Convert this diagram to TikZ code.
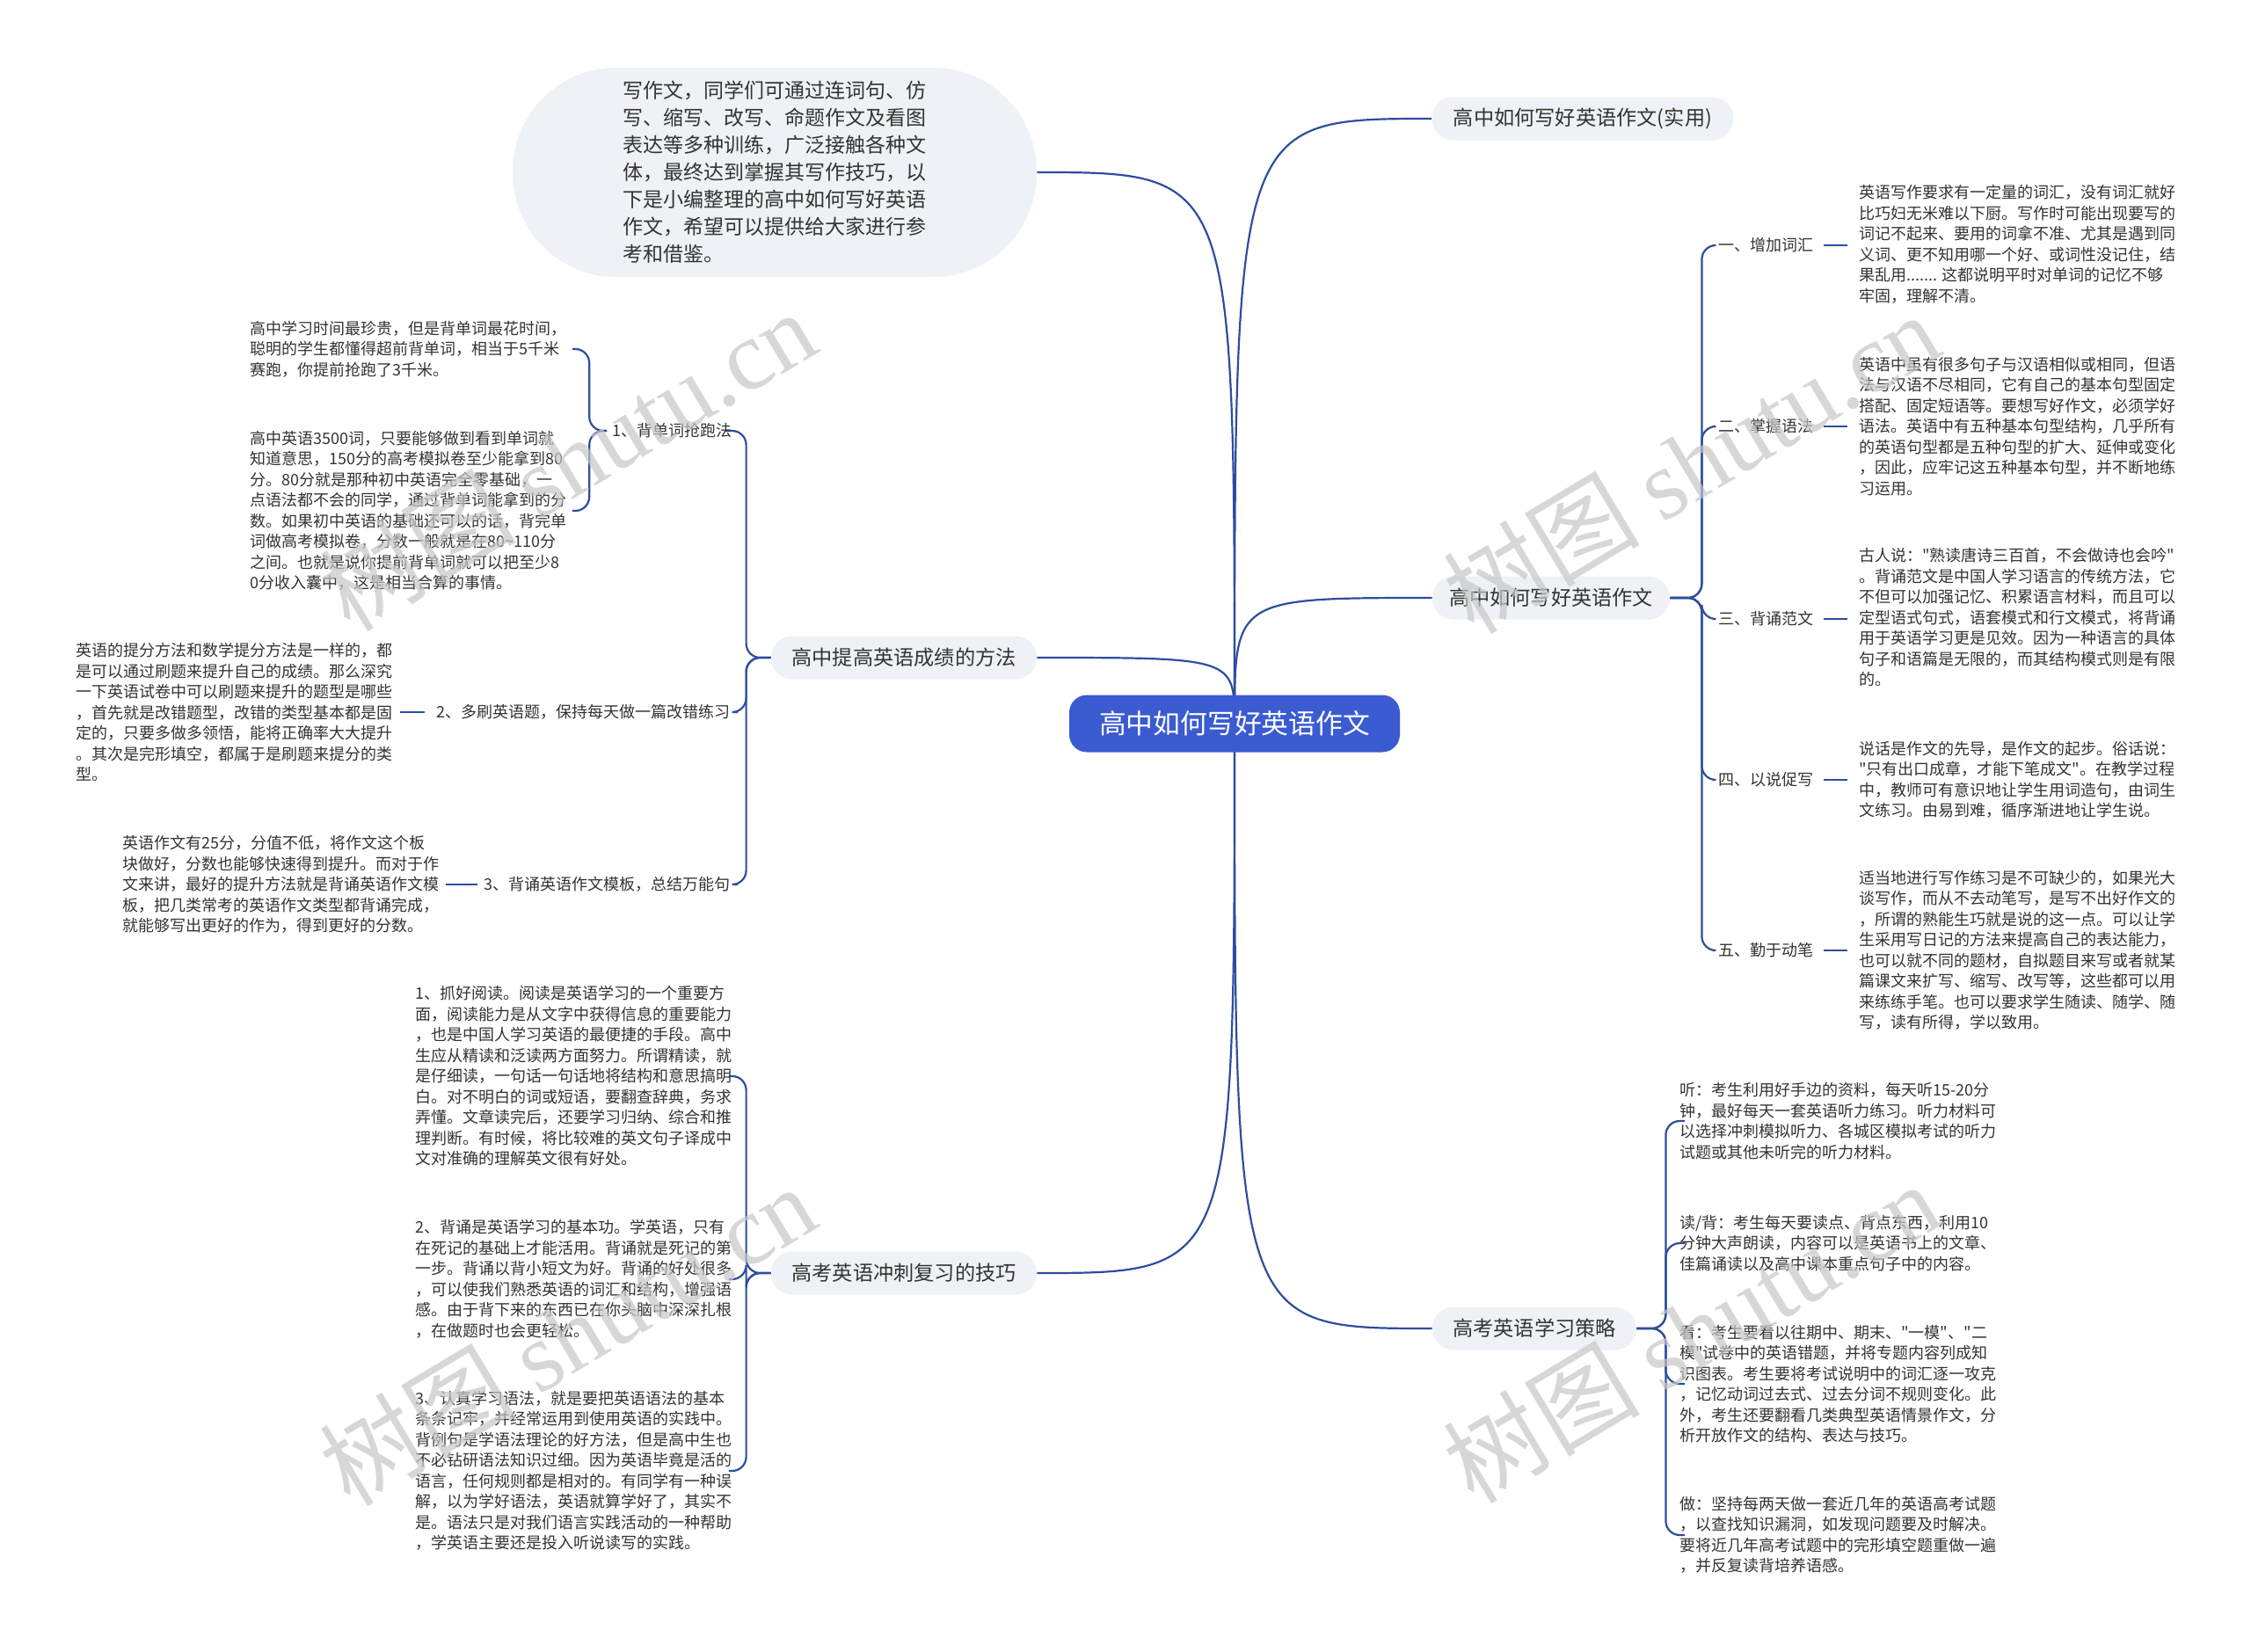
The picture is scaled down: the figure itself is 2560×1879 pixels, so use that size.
\documentclass[tikz,border=0pt]{standalone}
\usepackage{fontspec}
\setmainfont{Noto Sans CJK SC}
\newfontfamily\cjk{Noto Sans CJK SC}
\newfontfamily\wmlatin{Liberation Serif}
\usetikzlibrary{backgrounds}
\definecolor{linec}{HTML}{2D4D9E}
\definecolor{hubc}{HTML}{3B5BD1}
\definecolor{pillc}{HTML}{EEF1F5}
\definecolor{ink}{HTML}{333333}
\tikzset{
 conn/.style={draw=linec, line width=1.1pt},
 bracketc/.style={conn, rounded corners=8pt},
 hubnode/.style={fill=hubc, text=white, rounded corners=10pt, minimum width=188pt, minimum height=32.5pt, inner sep=0pt, font=\cjk\fontsize{15.4}{18}\selectfont},
 topic/.style={fill=pillc, text=ink, rounded corners=12pt, minimum height=24.5pt, inner sep=0pt, font=\cjk\fontsize{11.6}{14}\selectfont},
 lbl/.style={text=ink, inner sep=0pt, font=\cjk\fontsize{9}{11.75}\selectfont},
 blk/.style={text=ink, inner sep=0pt, align=left, font=\cjk\fontsize{9}{11.75}\selectfont},
 wm/.style={text=black!22, text opacity=0.7, rotate=31, inner sep=0pt, font=\cjk\fontsize{56}{60}\selectfont}
}
\begin{document}
\begin{tikzpicture}[x=0.5pt,y=-0.5pt]
\useasboundingbox (0,0) rectangle (2560,1879);

% hub
\node[hubnode] (hub) at (1404,823) {高中如何写好英语作文};

% level-1 topics
\node[topic, minimum width=171.5pt] (R1) at (1800,135) {高中如何写好英语作文(实用)};
\node[topic, minimum width=135pt] (R2) at (1764,680) {高中如何写好英语作文};
\node[topic, minimum width=116pt] (R3) at (1745,1511) {高考英语学习策略};
\node[topic, minimum width=151pt] (L1) at (1028,748) {高中提高英语成绩的方法};
\node[topic, minimum width=151pt] (L2) at (1028,1448) {高考英语冲刺复习的技巧};
\node[fill=pillc, text=ink, rounded corners=59pt, minimum width=298pt, minimum height=119pt, inner sep=0pt, align=left, font=\cjk\fontsize{11.5}{15.5}\selectfont] (bubble) at (881,196) {写作文，同学们可通过连词句、仿\\
写、缩写、改写、命题作文及看图\\
表达等多种训练，广泛接触各种文\\
体，最终达到掌握其写作技巧，以\\
下是小编整理的高中如何写好英语\\
作文，希望可以提供给大家进行参\\
考和借鉴。};

% right branch R2 labels and blocks
\node[lbl, anchor=west] (a1) at (1954,279) {一、增加词汇};
\node[lbl, anchor=west] (a2) at (1954,485) {二、掌握语法};
\node[lbl, anchor=west] (a3) at (1954,704) {三、背诵范文};
\node[lbl, anchor=west] (a4) at (1954,887) {四、以说促写};
\node[lbl, anchor=west] (a5) at (1954,1081) {五、勤于动笔};

\node[blk, anchor=west] (t1) at (2114,278) {英语写作要求有一定量的词汇，没有词汇就好\\
比巧妇无米难以下厨。写作时可能出现要写的\\
词记不起来、要用的词拿不准、尤其是遇到同\\
义词、更不知用哪一个好、或词性没记住，结\\
果乱用....... 这都说明平时对单词的记忆不够\\
牢固，理解不清。};
\node[blk, anchor=west] (t2) at (2114,485) {英语中虽有很多句子与汉语相似或相同，但语\\
法与汉语不尽相同，它有自己的基本句型固定\\
搭配、固定短语等。要想写好作文，必须学好\\
语法。英语中有五种基本句型结构，几乎所有\\
的英语句型都是五种句型的扩大、延伸或变化\\
，因此，应牢记这五种基本句型，并不断地练\\
习运用。};
\node[blk, anchor=west] (t3) at (2114,702) {古人说："熟读唐诗三百首，不会做诗也会吟"\\
。背诵范文是中国人学习语言的传统方法，它\\
不但可以加强记忆、积累语言材料，而且可以\\
定型语式句式，语套模式和行文模式，将背诵\\
用于英语学习更是见效。因为一种语言的具体\\
句子和语篇是无限的，而其结构模式则是有限\\
的。};
\node[blk, anchor=west] (t4) at (2114,887) {说话是作文的先导，是作文的起步。俗话说：\\
"只有出口成章，才能下笔成文"。在教学过程\\
中，教师可有意识地让学生用词造句，由词生\\
文练习。由易到难，循序渐进地让学生说。};
\node[blk, anchor=west] (t5) at (2114,1081) {适当地进行写作练习是不可缺少的，如果光大\\
谈写作，而从不去动笔写，是写不出好作文的\\
，所谓的熟能生巧就是说的这一点。可以让学\\
生采用写日记的方法来提高自己的表达能力，\\
也可以就不同的题材，自拟题目来写或者就某\\
篇课文来扩写、缩写、改写等，这些都可以用\\
来练练手笔。也可以要求学生随读、随学、随\\
写，读有所得，学以致用。};

% right branch R3 blocks
\node[blk, anchor=west] (e1) at (1910,1275) {听：考生利用好手边的资料，每天听15-20分\\
钟，最好每天一套英语听力练习。听力材料可\\
以选择冲刺模拟听力、各城区模拟考试的听力\\
试题或其他未听完的听力材料。};
\node[blk, anchor=west] (e2) at (1910,1414) {读/背：考生每天要读点、背点东西，利用10\\
分钟大声朗读，内容可以是英语书上的文章、\\
佳篇诵读以及高中课本重点句子中的内容。};
\node[blk, anchor=west] (e3) at (1910,1574) {看：考生要看以往期中、期末、"一模"、"二\\
模"试卷中的英语错题，并将专题内容列成知\\
识图表。考生要将考试说明中的词汇逐一攻克\\
，记忆动词过去式、过去分词不规则变化。此\\
外，考生还要翻看几类典型英语情景作文，分\\
析开放作文的结构、表达与技巧。};
\node[blk, anchor=west] (e4) at (1910,1746) {做：坚持每两天做一套近几年的英语高考试题\\
，以查找知识漏洞，如发现问题要及时解决。\\
要将近几年高考试题中的完形填空题重做一遍\\
，并反复读背培养语感。};

% left branch L1
\node[lbl, anchor=east] (b1) at (833,490) {1、背单词抢跑法};
\node[lbl, anchor=east] (b2) at (831,810) {2、多刷英语题，保持每天做一篇改错练习};
\node[lbl, anchor=east] (b3) at (831,1006) {3、背诵英语作文模板，总结万能句};

\node[blk, anchor=west] (c1) at (284,397) {高中学习时间最珍贵，但是背单词最花时间，\\
聪明的学生都懂得超前背单词，相当于5千米\\
赛跑，你提前抢跑了3千米。};
\node[blk, anchor=west] (c2) at (284,581) {高中英语3500词，只要能够做到看到单词就\\
知道意思，150分的高考模拟卷至少能拿到80\\
分。80分就是那种初中英语完全零基础，一\\
点语法都不会的同学，通过背单词能拿到的分\\
数。如果初中英语的基础还可以的话，背完单\\
词做高考模拟卷，分数一般就是在80\textasciitilde 110分\\
之间。也就是说你提前背单词就可以把至少8\\
0分收入囊中，这是相当合算的事情。};
\node[blk, anchor=west] (c3) at (86,810) {英语的提分方法和数学提分方法是一样的，都\\
是可以通过刷题来提升自己的成绩。那么深究\\
一下英语试卷中可以刷题来提升的题型是哪些\\
，首先就是改错题型，改错的类型基本都是固\\
定的，只要多做多领悟，能将正确率大大提升\\
。其次是完形填空，都属于是刷题来提分的类\\
型。};
\node[blk, anchor=west] (c4) at (139,1006) {英语作文有25分，分值不低，将作文这个板\\
块做好，分数也能够快速得到提升。而对于作\\
文来讲，最好的提升方法就是背诵英语作文模\\
板，把几类常考的英语作文类型都背诵完成，\\
就能够写出更好的作为，得到更好的分数。};

% left branch L2
\node[blk, anchor=west] (d1) at (472,1224) {1、抓好阅读。阅读是英语学习的一个重要方\\
面，阅读能力是从文字中获得信息的重要能力\\
，也是中国人学习英语的最便捷的手段。高中\\
生应从精读和泛读两方面努力。所谓精读，就\\
是仔细读，一句话一句话地将结构和意思搞明\\
白。对不明白的词或短语，要翻查辞典，务求\\
弄懂。文章读完后，还要学习归纳、综合和推\\
理判断。有时候，将比较难的英文句子译成中\\
文对准确的理解英文很有好处。};
\node[blk, anchor=west] (d2) at (472,1455) {2、背诵是英语学习的基本功。学英语，只有\\
在死记的基础上才能活用。背诵就是死记的第\\
一步。背诵以背小短文为好。背诵的好处很多\\
，可以使我们熟悉英语的词汇和结构，增强语\\
感。由于背下来的东西已在你头脑中深深扎根\\
，在做题时也会更轻松。};
\node[blk, anchor=west] (d3) at (472,1673) {3、认真学习语法，就是要把英语语法的基本\\
条条记牢，并经常运用到使用英语的实践中。\\
背例句是学语法理论的好方法，但是高中生也\\
不必钻研语法知识过细。因为英语毕竟是活的\\
语言，任何规则都是相对的。有同学有一种误\\
解，以为学好语法，英语就算学好了，其实不\\
是。语法只是对我们语言实践活动的一种帮助\\
，学英语主要还是投入听说读写的实践。};

% connectors
\begin{scope}[on background layer]
\fill[white] (0,0) rectangle (2560,1879);
\draw[conn] (hub.center) .. controls (hub.center |- R1.west) .. (R1.west);
\draw[conn] (hub.center) .. controls (hub.center |- R2.west) .. (R2.west);
\draw[conn] (hub.center) .. controls (hub.center |- R3.west) .. (R3.west);
\draw[conn] (hub.center) .. controls (hub.center |- L1.east) .. (L1.east);
\draw[conn] (hub.center) .. controls (hub.center |- L2.east) .. (L2.east);
\draw[conn] (hub.center) .. controls (hub.center |- bubble.east) .. (bubble.east);

\foreach \k in {a1,a2,a3,a4,a5}
  \draw[bracketc, shorten >=3pt] (R2.east) -- ++(36,0) |- (\k.west);
\foreach \k/\t in {a1/t1,a2/t2,a3/t3,a4/t4,a5/t5}
  \draw[conn, shorten <=5.5pt, shorten >=6.5pt] (\k.east) -- (\k.east -| \t.west);

\foreach \k in {e1,e2,e3,e4}
  \draw[bracketc, shorten >=3pt] (R3.east) -- ++(33,0) |- (\k.west);

\foreach \k in {b1,b2,b3}
  \draw[bracketc, shorten >=4pt] (L1.west) -- ++(-28,0) |- (\k.east);
\foreach \k in {c1,c2}
  \draw[bracketc, shorten <=3pt, shorten >=3pt] (b1.west) -- ++(-26,0) |- (\k.east);
\draw[conn, shorten <=6.5pt, shorten >=4pt] (b2.west) -- (b2.west -| c3.east);
\draw[conn, shorten <=3.5pt, shorten >=3.5pt] (b3.west) -- (b3.west -| c4.east);

\foreach \k in {d1,d2,d3}
  \draw[bracketc, shorten >=2pt] (L2.west) -- ++(-28,0) |- (\k.east);
\end{scope}

% watermarks
\node[wm] (w1) at (645,523) {树图 {\wmlatin shutu.cn}};
\node[wm] (w2) at (1923,526) {树图 {\wmlatin shutu.cn}};
\node[wm] (w3) at (645,1518) {树图 {\wmlatin shutu.cn}};
\node[wm] (w4) at (1923,1515) {树图 {\wmlatin shutu.cn}};
\end{tikzpicture}
\end{document}
